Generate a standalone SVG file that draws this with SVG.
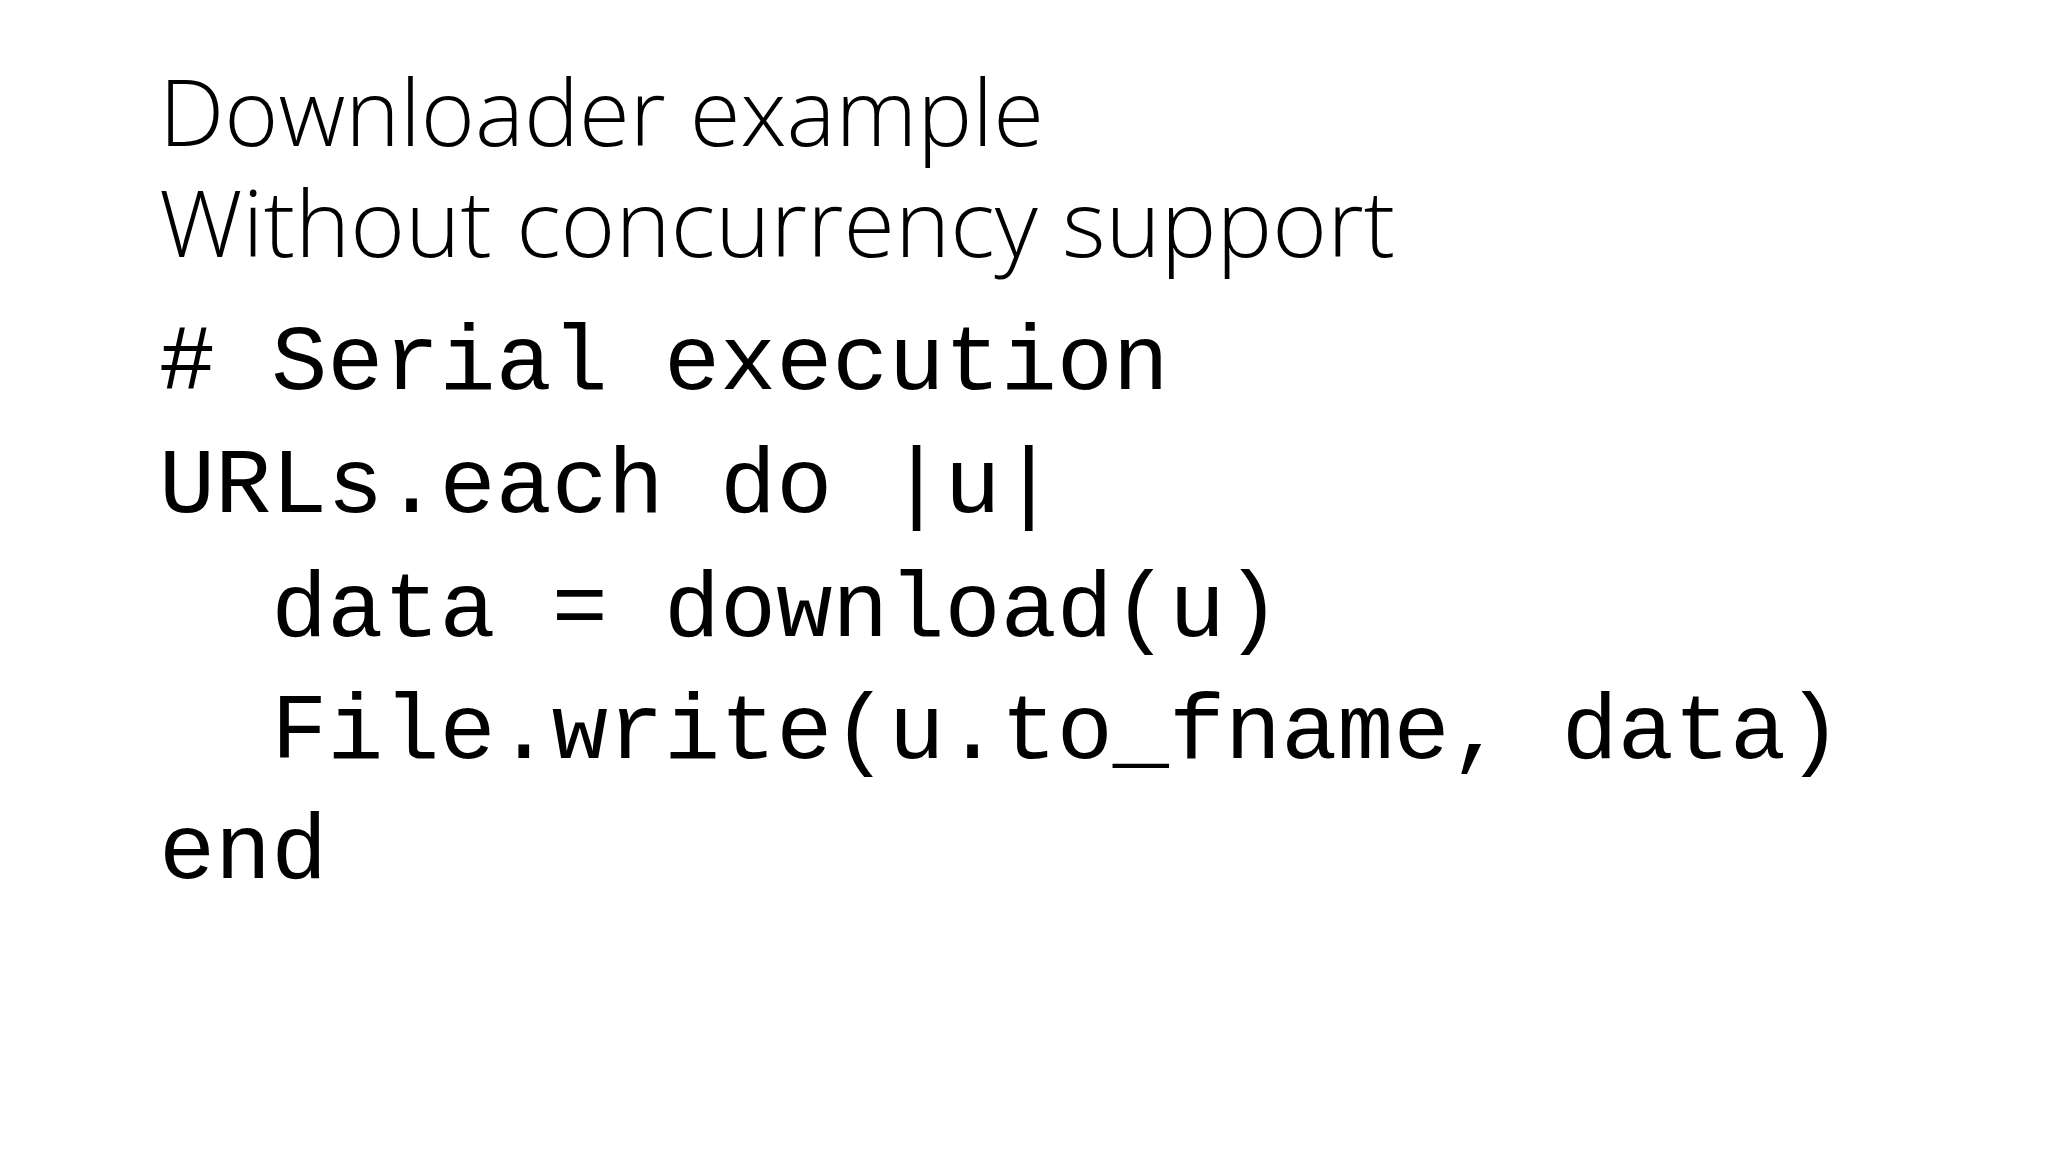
<svg xmlns="http://www.w3.org/2000/svg" width="2048" height="1152" viewBox="0 0 2048 1152">
<style>
.t{font-family:"Open Sans","Liberation Sans",sans-serif;font-weight:300;font-size:92px;fill:#000}
.c{font-family:"Liberation Mono","Courier New",monospace;font-size:93.5px;fill:#000;white-space:pre}
</style>
<rect width="2048" height="1152" fill="#fff"/>
<g id="title">
<text class="t" x="159" y="146" textLength="885" lengthAdjust="spacingAndGlyphs">Downloader example</text>
<text class="t" x="159" y="257" textLength="1236" lengthAdjust="spacingAndGlyphs">Without concurrency support</text>
</g>
<g id="code">
<text class="c" x="159" y="389" xml:space="preserve"># Serial execution</text>
<text class="c" x="159" y="512" xml:space="preserve">URLs.each do |u|</text>
<text class="c" x="159" y="636" xml:space="preserve">  data = download(u)</text>
<text class="c" x="159" y="758" xml:space="preserve">  File.write(u.to_fname, data)</text>
<text class="c" x="159" y="878" xml:space="preserve">end</text>
</g>
</svg>
